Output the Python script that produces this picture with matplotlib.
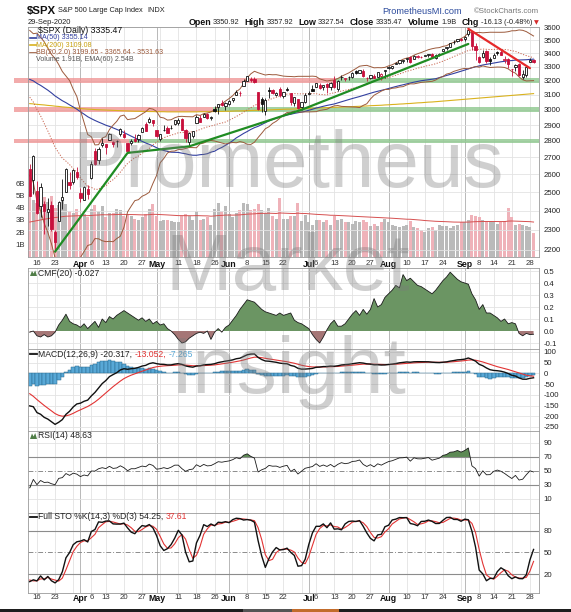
import numpy as np
import pandas as pd
import matplotlib
matplotlib.use('Agg')
import matplotlib.pyplot as plt
from matplotlib.patches import Rectangle, Polygon
from matplotlib.lines import Line2D

W, H = 571, 612
plt.rcParams['font.family'] = ['Liberation Sans', 'DejaVu Sans']

# ---------------- data ----------------
holidays = ['2020-04-10', '2020-05-25', '2020-07-03', '2020-09-07']
dates = [d for d in pd.bdate_range('2020-03-12', '2020-09-29') if d.strftime('%Y-%m-%d') not in holidays]

open_ = [2630.86, 2569.99, 2508.59, 2425.66, 2436.50, 2393.48, 2431.94, 2290.71, 2344.44, 2457.77, 2501.29, 2555.87, 2558.98, 2614.69,
         2498.08, 2458.54, 2514.92, 2578.28, 2738.65, 2685.00, 2776.99, 2782.46, 2805.10, 2795.64, 2799.34, 2842.43, 2845.62, 2784.81, 2787.89, 2810.42, 2812.64, 2854.65, 2909.96, 2918.46, 2930.91,
         2869.09, 2815.01, 2868.88, 2883.14, 2878.26, 2908.83, 2915.46, 2939.50, 2865.86, 2794.54, 2829.95, 2913.86, 2948.59, 2953.63, 2969.95, 2948.05, 3004.08, 3015.65, 3046.61, 3025.17,
         3038.78, 3064.78, 3098.90, 3111.56, 3163.84, 3199.92, 3213.32, 3213.42, 3123.53, 3071.04, 2993.76, 3131.00, 3136.13, 3101.64, 3140.29, 3094.42, 3138.70, 3114.40, 3046.60, 3073.20, 3018.59, 3050.20,
         3105.92, 3143.64, 3155.29, 3166.44, 3153.07, 3176.17, 3152.47, 3205.08, 3141.11, 3225.98, 3208.36, 3224.21, 3224.29, 3268.52, 3254.86, 3271.64, 3218.58, 3219.84, 3234.27, 3227.22, 3231.76, 3270.45,
         3288.26, 3289.92, 3317.37, 3323.17, 3340.05, 3356.04, 3370.34, 3355.46, 3372.95, 3368.66, 3380.86, 3387.04, 3392.51, 3360.48, 3386.01, 3418.09, 3435.95, 3449.97, 3485.14, 3494.69, 3509.73,
         3507.44, 3543.76, 3564.74, 3453.60, 3371.88, 3369.82, 3412.56, 3352.70, 3363.56, 3407.73, 3411.23, 3346.86, 3357.38, 3285.57, 3295.75, 3320.11, 3226.14, 3236.66, 3333.90, 3350.92]
high_ = [2660.95, 2711.33, 2562.98, 2553.93, 2453.57, 2466.97, 2453.01, 2300.73, 2449.71, 2571.42, 2637.01, 2615.91, 2631.80, 2641.39,
         2522.75, 2533.22, 2538.18, 2676.85, 2756.89, 2760.75, 2818.57, 2782.46, 2851.85, 2801.88, 2806.51, 2879.22, 2868.98, 2785.54, 2815.10, 2844.90, 2842.71, 2887.72, 2921.15, 2954.86, 2930.91,
         2869.09, 2844.24, 2898.23, 2891.11, 2901.92, 2932.16, 2944.25, 2945.82, 2874.14, 2852.80, 2865.01, 2968.09, 2964.21, 2980.29, 2978.50, 2956.76, 3021.72, 3036.25, 3068.67, 3049.17,
         3062.18, 3081.07, 3130.94, 3128.91, 3211.72, 3233.13, 3222.71, 3223.27, 3123.53, 3088.42, 3079.76, 3153.45, 3141.16, 3120.00, 3155.53, 3120.92, 3154.90, 3115.01, 3086.25, 3073.73, 3053.89, 3111.51,
         3128.44, 3165.81, 3182.59, 3184.15, 3171.80, 3179.78, 3186.82, 3235.32, 3200.95, 3238.28, 3220.39, 3233.52, 3258.61, 3277.29, 3279.32, 3279.99, 3227.26, 3241.43, 3243.72, 3264.74, 3250.92, 3272.17,
         3302.73, 3306.84, 3330.77, 3351.03, 3352.54, 3363.29, 3381.01, 3387.89, 3387.24, 3378.51, 3387.59, 3395.06, 3399.54, 3390.80, 3399.96, 3432.09, 3444.21, 3481.07, 3501.38, 3509.23, 3514.77,
         3528.03, 3588.11, 3564.85, 3479.15, 3379.97, 3424.77, 3425.55, 3368.95, 3402.93, 3419.48, 3428.92, 3375.17, 3362.27, 3285.57, 3320.31, 3323.35, 3278.70, 3306.88, 3360.74, 3357.92]
low_ = [2478.86, 2492.37, 2380.94, 2367.04, 2280.52, 2319.78, 2295.56, 2191.86, 2344.44, 2407.53, 2500.72, 2520.02, 2545.28, 2571.15,
        2447.49, 2455.79, 2459.96, 2574.57, 2657.67, 2663.30, 2762.36, 2721.17, 2805.10, 2761.54, 2764.32, 2830.88, 2820.43, 2727.10, 2775.95, 2794.26, 2791.76, 2852.89, 2860.71, 2912.16, 2892.47,
        2821.61, 2797.85, 2863.55, 2847.65, 2876.48, 2902.88, 2903.44, 2869.59, 2793.15, 2766.64, 2816.78, 2913.86, 2922.35, 2953.63, 2938.57, 2933.59, 2988.17, 2969.75, 3023.40, 2998.61,
        3031.54, 3051.64, 3098.90, 3090.41, 3163.84, 3196.00, 3193.11, 3181.49, 2999.49, 2984.47, 2965.66, 3076.06, 3108.03, 3093.51, 3083.11, 3079.39, 3127.12, 3032.13, 3024.01, 3004.63, 2999.74, 3047.83,
        3101.17, 3124.52, 3155.29, 3142.93, 3136.53, 3115.70, 3136.22, 3149.43, 3127.66, 3200.76, 3198.59, 3205.65, 3215.16, 3247.77, 3253.10, 3222.66, 3200.05, 3214.25, 3216.17, 3227.22, 3204.13, 3220.26,
        3284.53, 3286.37, 3317.37, 3318.14, 3328.72, 3335.44, 3326.44, 3355.46, 3363.35, 3361.64, 3379.22, 3370.15, 3369.66, 3354.69, 3379.31, 3413.13, 3425.84, 3444.15, 3468.35, 3484.32, 3493.25,
        3494.60, 3535.23, 3427.41, 3349.63, 3329.27, 3366.84, 3329.25, 3310.47, 3363.56, 3389.25, 3384.45, 3328.82, 3292.40, 3229.10, 3270.95, 3232.57, 3209.45, 3228.44, 3332.91, 3327.54]
close_ = [2480.64, 2711.02, 2386.13, 2529.19, 2398.10, 2409.39, 2304.92, 2237.40, 2447.33, 2475.56, 2630.07, 2541.47, 2626.65, 2584.59,
          2470.50, 2526.90, 2488.65, 2663.68, 2659.41, 2749.98, 2789.82, 2761.63, 2846.06, 2783.36, 2799.55, 2874.56, 2823.16, 2736.56, 2799.31, 2797.80, 2836.74, 2878.48, 2863.39, 2939.51, 2912.43,
          2830.71, 2842.74, 2868.44, 2848.42, 2881.19, 2929.80, 2930.32, 2870.12, 2820.00, 2852.50, 2863.70, 2953.91, 2922.94, 2971.61, 2948.51, 2955.45, 2991.77, 3036.13, 3029.73, 3044.31,
          3055.73, 3080.82, 3122.87, 3112.35, 3193.93, 3232.39, 3207.18, 3190.14, 3002.10, 3041.31, 3066.59, 3124.74, 3113.49, 3115.34, 3097.74, 3117.86, 3131.29, 3050.33, 3083.76, 3009.05, 3053.24, 3100.29,
          3115.86, 3130.01, 3179.72, 3145.32, 3169.94, 3152.05, 3185.04, 3155.22, 3197.52, 3226.56, 3215.57, 3224.73, 3251.84, 3257.30, 3276.02, 3235.66, 3215.63, 3239.41, 3218.44, 3258.44, 3246.22, 3271.12,
          3294.61, 3306.51, 3327.77, 3349.16, 3351.28, 3360.47, 3333.69, 3380.35, 3373.43, 3372.85, 3381.99, 3389.78, 3374.85, 3385.51, 3397.16, 3431.28, 3443.62, 3478.73, 3484.55, 3508.01, 3500.31,
          3526.65, 3580.84, 3455.06, 3426.96, 3331.84, 3398.96, 3339.19, 3340.97, 3383.54, 3401.20, 3385.49, 3357.01, 3319.47, 3281.06, 3315.57, 3236.92, 3246.59, 3298.46, 3351.60, 3335.47]

# closes before the visible window (Dec 31 2019 - Mar 11 2020), for indicator look-back
pre_close = [3230.78, 3257.85, 3234.85, 3246.28, 3237.18, 3253.05, 3274.70, 3265.35, 3288.13, 3283.15, 3289.29, 3316.81, 3329.62,
             3320.79, 3321.75, 3325.54, 3295.47, 3243.63, 3276.24, 3273.40, 3283.66, 3225.52, 3248.92, 3297.59, 3334.69, 3345.78,
             3327.71, 3352.09, 3357.75, 3379.45, 3373.94, 3380.16, 3370.29, 3386.15, 3373.23, 3337.75, 3225.89, 3128.21, 3116.39,
             2978.76, 2954.22, 3090.23, 3003.37, 3130.12, 3023.94, 2972.37, 2746.56, 2882.23, 2741.38]
pre_high = [3381.47, 3385.09, 3380.69, 3375.01, 3393.52, 3389.15, 3360.76, 3259.81, 3246.99, 3182.51, 3097.07, 2959.72, 3090.96,
            3136.72, 3130.97, 3083.04, 2985.93, 2863.89, 2882.59, 2825.60]
pre_low = [3369.72, 3360.52, 3367.13, 3355.61, 3378.83, 3341.02, 3328.45, 3214.65, 3118.77, 3108.99, 2977.39, 2855.84, 2945.19,
           2976.63, 3034.38, 2999.83, 2901.54, 2734.43, 2734.00, 2707.22]

volume_b = [5.1, 4.6, 4.4, 4.7, 4.9, 4.5, 5.0, 4.0, 4.2, 4.6, 4.3, 3.7, 3.6, 3.9,
            3.4, 3.5, 3.2, 3.9, 4.2, 3.7, 4.1, 3.2, 3.6, 3.6, 3.9, 3.8, 3.3, 3.4, 3.3, 3.1, 3.0, 3.2, 3.5, 3.9, 4.3,
            3.3, 2.9, 3.0, 3.0, 2.9, 2.8, 2.8, 3.3, 3.5, 3.3, 3.0, 3.7, 3.0, 3.1, 3.2, 2.6, 3.9, 4.4, 3.7, 4.1,
            3.5, 3.2, 3.6, 3.8, 4.4, 4.3, 3.8, 3.9, 4.3, 3.8, 3.6, 4.0, 3.3, 3.1, 4.8, 3.1, 3.1, 3.3, 3.3, 4.4, 2.9, 3.4,
            2.8, 2.6, 3.0, 3.0, 2.8, 3.0, 2.6, 3.3, 3.0, 3.1, 2.8, 2.8, 2.7, 2.9, 2.8, 3.0, 2.8, 2.5, 2.7, 2.5, 2.8, 3.1,
            2.8, 2.6, 2.5, 2.4, 2.5, 2.6, 2.9, 2.4, 2.3, 2.2, 2.0, 2.3, 2.4, 2.2, 2.6, 2.5, 2.5, 2.3, 2.5, 2.6, 2.8,
            2.8, 3.0, 3.4, 3.3, 3.2, 3.0, 2.9, 2.9, 2.8, 2.7, 2.8, 2.9, 4.0, 3.2, 2.6, 2.7, 2.6, 2.5, 2.4, 1.91]
vol_ema_seed = 2.75

ma200 = [3041, 3039, 3036, 3034, 3032, 3029, 3027, 3024, 3022, 3019, 3017, 3015, 3012, 3010,
         3008, 3006, 3004, 3003, 3001, 3000, 2999, 2998, 2997, 2996, 2995, 2994, 2993, 2992, 2991, 2990, 2990, 2989, 2989, 2988, 2988,
         2987, 2987, 2987, 2986, 2986, 2986, 2986, 2986, 2986, 2986, 2986, 2986, 2987, 2987, 2987, 2988, 2988, 2989, 2989, 2990,
         2990, 2991, 2992, 2992, 2993, 2994, 2995, 2996, 2996, 2997, 2998, 2999, 3000, 3001, 3002, 3003, 3004, 3004, 3005, 3006, 3007, 3008,
         3009, 3010, 3011, 3012, 3013, 3014, 3015, 3016, 3017, 3018, 3019, 3020, 3021, 3022, 3023, 3024, 3025, 3027, 3028, 3029, 3030, 3032,
         3033, 3035, 3036, 3038, 3039, 3041, 3042, 3044, 3046, 3047, 3049, 3051, 3052, 3054, 3056, 3058, 3060, 3062, 3064, 3066, 3068,
         3070, 3072, 3074, 3076, 3078, 3080, 3082, 3084, 3086, 3088, 3090, 3092, 3094, 3096, 3098, 3100, 3102, 3104, 3106, 3109]

cmf20 = [-0.01, 0.00, -0.04, -0.05, -0.03, -0.05, -0.04, -0.01, 0.05, 0.09, 0.14, 0.08, 0.06, 0.05, 0.03, 0.06, 0.02, 0.05, 0.08, 0.03,
         0.10, 0.07, 0.12, 0.10, 0.13, 0.15, 0.17, 0.15, 0.13, 0.11, 0.09, 0.11, 0.08, 0.10, 0.06, 0.08, 0.05, 0.06, 0.02, 0.00,
         -0.03, -0.07, -0.10, -0.09, -0.06, -0.04, -0.02, -0.01, -0.02, 0.00, -0.07, -0.01, 0.02, -0.01, 0.03, 0.05, 0.09, 0.13, 0.18, 0.22,
         0.26, 0.25, 0.24, 0.21, 0.18, 0.16, 0.15, 0.14, 0.13, 0.15, 0.13, 0.14, 0.15, 0.09, 0.07, 0.06, 0.04, 0.02, -0.03, -0.07,
         -0.10, -0.05, 0.01, 0.06, 0.09, 0.04, 0.04, 0.06, 0.10, 0.14, 0.17, 0.13, 0.18, 0.14, 0.18, 0.27, 0.20, 0.22, 0.28, 0.31,
         0.34, 0.38, 0.36, 0.47, 0.42, 0.44, 0.41, 0.38, 0.37, 0.35, 0.33, 0.31, 0.34, 0.38, 0.42, 0.45, 0.49, 0.46, 0.43, 0.41,
         0.40, 0.39, 0.31, 0.26, 0.18, 0.22, 0.15, 0.15, 0.13, 0.11, 0.08, 0.10, 0.06, 0.07, 0.06, -0.02, -0.04, -0.02, -0.03, -0.027]

tick_dates = ['2020-03-16', '2020-03-23', '2020-04-01', '2020-04-06', '2020-04-13', '2020-04-20', '2020-04-27', '2020-05-01',
              '2020-05-11', '2020-05-18', '2020-05-26', '2020-06-01', '2020-06-08', '2020-06-15', '2020-06-22', '2020-07-01',
              '2020-07-06', '2020-07-13', '2020-07-20', '2020-07-27', '2020-08-03', '2020-08-10', '2020-08-17', '2020-08-24',
              '2020-09-01', '2020-09-08', '2020-09-14', '2020-09-21', '2020-09-28']
tick_labels = ['16', '23', 'Apr', '6', '13', '20', '27', 'May', '11', '18', '26', 'Jun', '8', '15', '22', 'Jul', '6', '13', '20',
               '27', 'Aug', '10', '17', '24', 'Sep', '8', '14', '21', '28']
month_names = ['Apr', 'May', 'Jun', 'Jul', 'Aug', 'Sep']

levels = [3200, 3000, 2800]
level_switch_after = ['2020-07-13', '2020-05-22', '2020-04-21']   # pink (resistance) -> green (support)
green_line = [('2020-03-23', 2191.86), ('2020-04-21', 2727.10), ('2020-05-14', 2766.64), ('2020-06-29', 2999.74), ('2020-09-02', 3470.0)]
red_line = [('2020-09-02', 3588.11), ('2020-09-28', 3289.0)]

assert len(dates) == 140
for arr in (open_, high_, low_, close_, volume_b, ma200, cmf20):
    assert len(arr) == 140, len(arr)

# ---------------- indicators ----------------
N = 140
x = np.arange(N)
date_idx = {d.strftime('%Y-%m-%d'): i for i, d in enumerate(dates)}
n_pre = len(pre_close)
s = pd.Series(pre_close + close_)
ma50 = s.rolling(50).mean().values[n_pre:]
bb_mid = s.rolling(20).mean().values[n_pre:]
bb_sd = s.rolling(20).std(ddof=0).values[n_pre:]
bb_up, bb_lo = bb_mid + 2 * bb_sd, bb_mid - 2 * bb_sd
macd_all = s.ewm(span=12, adjust=False).mean() - s.ewm(span=26, adjust=False).mean()
sig_all = macd_all.ewm(span=9, adjust=False).mean()
macd = macd_all.values[n_pre:]
sig = sig_all.values[n_pre:]
hist = macd - sig
dlt = s.diff()
ag = dlt.clip(lower=0).ewm(alpha=1 / 14, adjust=False).mean()
al = (-dlt.clip(upper=0)).ewm(alpha=1 / 14, adjust=False).mean()
rsi = (100 - 100 / (1 + ag / al)).values[n_pre:]
h_all = pd.Series(pre_close[:n_pre - 20] + pre_high + high_)
l_all = pd.Series(pre_close[:n_pre - 20] + pre_low + low_)
hh = h_all.rolling(14).max()
ll = l_all.rolling(14).min()
fast_k = 100 * (s - ll) / (hh - ll)
full_k = fast_k.rolling(3).mean()
full_d = full_k.rolling(3).mean()
stok = full_k.values[n_pre:]
stod = full_d.values[n_pre:]
vol_ema = pd.Series([vol_ema_seed] + volume_b).ewm(span=60, adjust=False).mean().values[1:]

o = np.array(open_); h = np.array(high_); l = np.array(low_); c = np.array(close_)
prev = np.r_[pre_close[-1], c[:-1]]

week_pos, month_pos = [], []
for i in range(1, N):
    if dates[i].isocalendar()[1] != dates[i - 1].isocalendar()[1]:
        week_pos.append(i)
    if dates[i].month != dates[i - 1].month:
        month_pos.append(i)
tick_pos = [date_idx[d] for d in tick_dates]

# ---------------- figure ----------------
fig = plt.figure(figsize=(W / 100, H / 100), dpi=100)
fig.patch.set_facecolor('white')


def rect(top, bottom, left=28, right=539):
    return [left / W, 1 - bottom / H, (right - left) / W, (bottom - top) / H]


XL = (-0.47, 140.5)
GRID = '#e3e3e3'
MGRID = '#b8b8b8'
SPINE = '#9a9a9a'
RED = '#c8103c'
LAB = 5.6


def base(a, yt, ylab, ylim):
    a.set_xlim(*XL)
    a.set_ylim(*ylim)
    for p in week_pos:
        a.axvline(p, color=GRID, lw=0.6, zorder=0)
    for p in month_pos:
        a.axvline(p, color=MGRID, lw=0.7, zorder=0)
    a.yaxis.tick_right()
    a.set_yticks(yt)
    a.set_yticklabels(ylab)
    a.tick_params(axis='y', length=0, pad=3.2, labelsize=LAB, colors='#222222')
    a.tick_params(axis='x', length=0)
    a.set_xticks([])
    for sp in a.spines.values():
        sp.set_color(SPINE)
        sp.set_linewidth(0.6)


def date_ticks(a, pad):
    a.set_xticks(tick_pos)
    a.set_xticklabels(tick_labels)
    a.tick_params(axis='x', length=0, pad=pad, labelsize=LAB, colors='#333333')
    for t in a.get_xticklabels():
        if t.get_text() in month_names:
            t.set_fontweight('bold')
            t.set_fontsize(6.3)
            t.set_color('#111111')


# ---- main price panel ----
ax_vol = fig.add_axes(rect(26.7, 257), zorder=1)
ax_vol.set_xlim(*XL)
ax_vol.set_ylim(-0.04, 18.84)
for p in week_pos:
    ax_vol.axvline(p, color=GRID, lw=0.6, zorder=0)
for p in month_pos:
    ax_vol.axvline(p, color=MGRID, lw=0.7, zorder=0)
vcol = np.where(c < prev, '#eeaab2', '#b3b3b3')
ax_vol.bar(x, volume_b, width=0.82, color=vcol, linewidth=0, alpha=0.9, zorder=1)
ax_vol.plot(x, vol_ema, color='#d65050', lw=0.7, zorder=2)
ax_vol.set_yticks([1, 2, 3, 4, 5, 6])
ax_vol.set_yticklabels(['1B', '2B', '3B', '4B', '5B', '6B'])
ax_vol.tick_params(axis='y', length=0, pad=2.0, labelsize=LAB, colors='#333333')
ax_vol.set_xticks([])
for sp in ax_vol.spines.values():
    sp.set_visible(False)

ax = fig.add_axes(rect(26.7, 257), zorder=2)
ax.patch.set_alpha(0)
ax.set_yscale('log')
ax.set_xlim(*XL)
ax.set_ylim(2166, 3605)
pt = list(range(2200, 3700, 100))
ax.yaxis.tick_right()
ax.set_yticks(pt)
ax.set_yticklabels([str(v) for v in pt])
ax.yaxis.set_minor_locator(matplotlib.ticker.NullLocator())
ax.tick_params(axis='y', length=0, pad=3.2, labelsize=LAB, colors='#222222')
for v in pt:
    ax.axhline(v, color=GRID, lw=0.6, zorder=0)
for sp in ax.spines.values():
    sp.set_color(SPINE)
    sp.set_linewidth(0.6)
date_ticks(ax, 1.8)

# support / resistance bands
x_band_left = (14 - 29.7) / 3.625
for lv, sw in zip(levels, level_switch_after):
    xs = date_idx[sw] + 0.5
    f = 10 ** (2.3 / 1042.6)
    ax.add_patch(Rectangle((x_band_left, lv / f), xs - x_band_left, lv * f - lv / f, facecolor='#ee8f8f',
                           alpha=0.75, lw=0, zorder=1, clip_on=False))
    ax.add_patch(Rectangle((xs, lv / f), XL[1] - xs, lv * f - lv / f, facecolor='#86c486',
                           alpha=0.75, lw=0, zorder=1, clip_on=False))

ax.plot(x, ma200, color='#d9b21e', lw=0.8, zorder=3)
ax.plot(x, ma50, color='#3340a0', lw=0.8, zorder=3)
ax.plot(x, bb_up, color='#9c5a3c', lw=0.7, zorder=3)
ax.plot(x, bb_lo, color='#9c5a3c', lw=0.7, zorder=3)
ax.plot(x, bb_mid, color='#c8644e', lw=0.7, ls=(0, (1.2, 1.6)), zorder=3)

# candles
ccol = np.where(c < prev, RED, '#111111')
ax.vlines(x, l, h, colors=ccol, lw=0.6, zorder=5)
bb_bot = np.minimum(o, c)
bb_h = np.maximum(np.abs(c - o), bb_bot * 0.0009)
fcol = ['white' if ci >= oi else cc for ci, oi, cc in zip(c, o, ccol)]
ax.bar(x, bb_h, bottom=bb_bot, width=0.64, color=fcol, edgecolor=ccol, linewidth=0.6, zorder=6)

# hand drawn trend lines
ax.plot([date_idx[d] for d, _ in green_line], [v for _, v in green_line], color='#1f8c22', lw=1.6, zorder=7,
        solid_capstyle='round')
ax.plot([date_idx[d] for d, _ in red_line], [v for _, v in red_line], color='#e62a2a', lw=1.6, zorder=7,
        solid_capstyle='round')

# ---- CMF ----
ax_cmf = fig.add_axes(rect(268, 349))
cm = np.array(cmf20)
base(ax_cmf, [-0.1, 0.0, 0.1, 0.2, 0.3, 0.4, 0.5], ['-0.1', '0.0', '0.1', '0.2', '0.3', '0.4', '0.5'], (-0.15, 0.525))
for v in [-0.1, 0.1, 0.2, 0.3, 0.4, 0.5]:
    ax_cmf.axhline(v, color=GRID, lw=0.6, zorder=0)
ax_cmf.fill_between(x, cm, 0, where=cm >= 0, interpolate=True, color='#6b9563', lw=0, zorder=2)
ax_cmf.fill_between(x, cm, 0, where=cm < 0, interpolate=True, color='#a57676', lw=0, zorder=2)
ax_cmf.plot(x, cm, color='#1a1a1a', lw=0.6, zorder=3)

# ---- MACD ----
ax_macd = fig.add_axes(rect(349, 431))
base(ax_macd, [-250, -200, -150, -100, -50, 0, 50, 100], ['-250', '-200', '-150', '-100', '-50', '0', '50', '100'], (-268.7, 114))
for v in [-250, -200, -150, -100, -50, 0, 50, 100]:
    ax_macd.axhline(v, color=GRID, lw=0.6, zorder=0)
ax_macd.bar(x, hist, width=1.0, color='#58a8d6', edgecolor='#27698f', linewidth=0.35, zorder=2)
ax_macd.plot(x, sig, color='#e23434', lw=0.8, zorder=3)
ax_macd.plot(x, macd, color='#111111', lw=1.0, zorder=4)

# ---- RSI ----
ax_rsi = fig.add_axes(rect(431, 513))
base(ax_rsi, [10, 30, 50, 70, 90], ['10', '30', '50', '70', '90'], (-10, 107.1))
for v in [10, 90]:
    ax_rsi.axhline(v, color=GRID, lw=0.6, zorder=0)
ax_rsi.axhline(70, color='#8c8c8c', lw=0.8, zorder=1)
ax_rsi.axhline(30, color='#8c8c8c', lw=0.8, zorder=1)
ax_rsi.axhline(50, color='#8c8c8c', lw=0.7, ls=(0, (5, 2, 1, 2)), zorder=1)
ax_rsi.fill_between(x, rsi, 70, where=rsi >= 70, interpolate=True, color='#5d8a55', lw=0, zorder=2)
ax_rsi.fill_between(x, rsi, 30, where=rsi <= 30, interpolate=True, color='#5d8a55', lw=0, zorder=2)
ax_rsi.plot(x, rsi, color='#1a1a1a', lw=0.6, zorder=3)

# ---- Stochastics ----
ax_sto = fig.add_axes(rect(513, 593))
base(ax_sto, [20, 50, 80], ['20', '50', '80'], (-6.5, 105.1))
ax_sto.axhline(80, color='#8c8c8c', lw=0.8, zorder=1)
ax_sto.axhline(20, color='#8c8c8c', lw=0.8, zorder=1)
ax_sto.axhline(50, color='#8c8c8c', lw=0.7, ls=(0, (5, 2, 1, 2)), zorder=1)
ax_sto.plot(x, stod, color='#e23434', lw=0.8, zorder=3)
ax_sto.plot(x, stok, color='#111111', lw=1.0, zorder=4)
date_ticks(ax_sto, 1.0)

# ---------------- texts ----------------
rend = fig.canvas.get_renderer()


def seq(x0, y, parts, right=None):
    xs = x0
    made = []
    for s_, kw, gap in parts:
        t = fig.text(xs / W, 1 - y / H, s_, va='center', ha='left', **kw)
        made.append(t)
        xs += t.get_window_extent(renderer=rend).width + gap
    if right is not None:
        dx = (right - xs) / W
        for t in made:
            px, py = t.get_position()
            t.set_position((px + dx, py))
    return xs


def ftext(xp, yp, s_, **kw):
    return fig.text(xp / W, 1 - yp / H, s_, **kw)


def hline_icon(x0, x1, y, color, lw=1.2):
    fig.add_artist(Line2D([x0 / W, x1 / W], [1 - y / H, 1 - y / H], color=color, lw=lw, transform=fig.transFigure))


def box(xp, yp, wp, hp, **kw):
    fig.add_artist(Rectangle((xp / W, 1 - (yp + hp) / H), wp / W, hp / H, transform=fig.transFigure, **kw))


# header
seq(27, 11, [('$SPX', dict(fontsize=8.2, fontweight='bold', color='#111111'), 2),
             ('S&P 500 Large Cap Index', dict(fontsize=5.3, color='#222222'), 4),
             ('INDX', dict(fontsize=5.3, color='#222222'), 0)])
ftext(28, 22.5, '29-Sep-2020', fontsize=5.4, color='#222222', va='center')
ftext(382, 11.5, 'PrometheusMI.com', fontsize=6.6, color='#2b4a9c', va='center')
ftext(539, 11.5, '\u00a9StockCharts.com', fontsize=5.6, color='#777777', va='center', ha='right')
bold = dict(fontsize=6.4, fontweight='bold', color='#111111')
norm = dict(fontsize=5.3, color='#222222')
seq(189, 22.5, [('Open', bold, 2), ('3350.92', norm, 5), ('High', bold, 2), ('3357.92', norm, 5),
                ('Low', bold, 2), ('3327.54', norm, 5), ('Close', bold, 2), ('3335.47', norm, 5),
                ('Volume', bold, 2), ('1.9B', norm, 5), ('Chg', bold, 2), ('-16.13 (-0.48%)', norm, 2),
                ('\u25bc', dict(fontsize=4.5, color='#d42a2a', family='DejaVu Sans'), 0)], right=539)

# main legend
box(30.0, 28.0, 1.6, 5.0, facecolor='#111111', lw=0)
box(32.4, 29.0, 1.6, 3.0, facecolor='white', edgecolor='#111111', lw=0.5)
box(34.8, 27.6, 1.6, 4.6, facecolor=RED, lw=0)
ftext(38, 30.6, '$SPX (Daily) 3335.47', fontsize=6.3, color='#111111', va='center')
hline_icon(30, 36, 37.9, '#3340a0')
ftext(36, 37.9, 'MA(50) 3355.14', fontsize=5.1, color='#3340a0', va='center')
hline_icon(30, 36, 45.2, '#d9b21e')
ftext(36, 45.2, 'MA(200) 3109.08', fontsize=5.1, color='#c9a10e', va='center')
hline_icon(30, 36, 52.6, '#9c5a3c')
ftext(36, 52.6, 'BB(20,2.0) 3199.65 - 3365.64 - 3531.63', fontsize=5.1, color='#9c5a3c', va='center')
for k, hh_ in enumerate([3.0, 5.0, 3.8]):
    box(30.2 + k * 1.7, 61.5 - hh_, 1.2, hh_, facecolor='#666666', lw=0)
ftext(36, 59.4, 'Volume 1.91B, EMA(60) 2.54B', fontsize=5.1, color='#555555', va='center')

# panel legends
fig.add_artist(Polygon([(30 / W, 1 - 276 / H), (32 / W, 1 - 271 / H), (33.6 / W, 1 - 273.6 / H), (35.2 / W, 1 - 270.4 / H),
                        (37 / W, 1 - 276 / H)], closed=True, transform=fig.transFigure, facecolor='#4f7d47', lw=0))
ftext(38, 273.3, 'CMF(20) -0.027', fontsize=6.2, color='#222222', va='center')
hline_icon(30, 37, 354.3, '#111111', lw=1.3)
seq(38.5, 354.3, [('MACD(12,26,9) -20.317,', dict(fontsize=6.2, color='#222222'), 2),
                  ('-13.052,', dict(fontsize=6.2, color='#e23434'), 2),
                  ('-7.265', dict(fontsize=6.2, color='#58a8d6'), 0)])
fig.add_artist(Polygon([(30 / W, 1 - 439 / H), (32 / W, 1 - 433.5 / H), (33.6 / W, 1 - 436.5 / H), (35.2 / W, 1 - 433 / H),
                        (37 / W, 1 - 439 / H)], closed=True, transform=fig.transFigure, facecolor='#4f7d47', lw=0))
ftext(38, 436, 'RSI(14) 48.63', fontsize=6.2, color='#222222', va='center')
hline_icon(30, 37, 516.8, '#111111', lw=1.3)
seq(38.5, 516.8, [('Full STO %K(14,3) %D(3) 54.25,', dict(fontsize=6.2, color='#222222'), 2),
                  ('37.61', dict(fontsize=6.2, color='#e23434'), 0)])

# watermark
for word, base_y in [('Prometheus', 187), ('Market', 290), ('Insight', 393)]:
    ftext(288, base_y, word, fontsize=57.6, color='#7a7a7a', alpha=0.36, ha='center', va='baseline', zorder=20)

# bottom browser strip
box(0, 608.6, W, 3.6, facecolor='#1e1e1e', lw=0)
box(243, 608.6, 49, 3.6, facecolor='#555555', lw=0)
box(292, 608.6, 47, 3.6, facecolor='#c26c2c', lw=0)

fig.savefig('out.png', dpi=100, facecolor='white')
